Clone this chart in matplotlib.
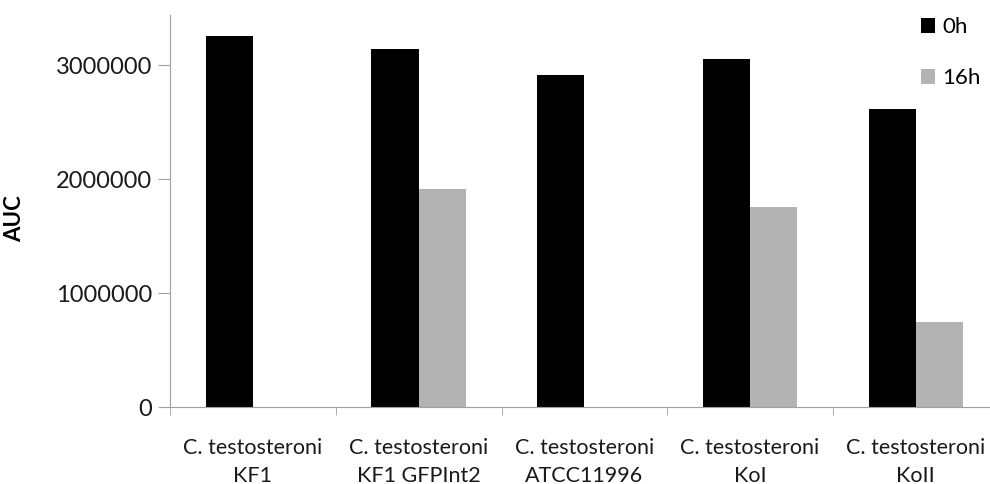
import matplotlib
matplotlib.use("Agg")
import matplotlib.pyplot as plt
import numpy as np

# data
strains = ["C. testosteroni\nKF1", "C. testosteroni\nKF1 GFPInt2", "C. testosteroni\nATCC11996",
           "C. testosteroni\nKoI", "C. testosteroni\nKoII"]
auc_0h = [3255000, 3140000, 2915000, 3050000, 2620000]
auc_16h = [0, 1910000, 0, 1760000, 750000]
y_ticks = [0, 1000000, 2000000, 3000000]

plt.rcParams['font.family'] = ['Lato', 'DejaVu Sans']

fig = plt.figure(figsize=(9.9, 4.84), dpi=100)
ax = fig.add_axes([170 / 990, 1 - 407.3 / 484, 828.75 / 990, (407.3 - 15) / 484])

x = np.arange(len(strains))
w = 0.285
ax.bar(x - w / 2, auc_0h, w, color="black", label="0h")
ax.bar(x + w / 2, auc_16h, w, color="#b3b3b3", label="16h")

ax.set_xlim(-0.5, len(strains) - 0.5)
ax.set_ylim(0, 3440000)
ax.set_yticks(y_ticks)
ax.set_yticklabels([str(v) for v in y_ticks], fontsize=17, color="#1a1a1a")

# category labels centred, tick marks between categories
ax.set_xticks(x)
ax.set_xticklabels(strains, fontsize=15.5, color="#1a1a1a", linespacing=1.5)
ax.tick_params(axis="x", which="major", length=0, pad=22)
ax.set_xticks(np.arange(len(strains)) - 0.5, minor=True)
ax.tick_params(axis="x", which="minor", length=6, color="#a0a0a0", direction="out")
ax.tick_params(axis="y", length=9, color="#a0a0a0", pad=4)

for s in ["top", "right"]:
    ax.spines[s].set_visible(False)
for s in ["left", "bottom"]:
    ax.spines[s].set_color("#a0a0a0")

ax.set_ylabel("AUC", fontsize=16, fontweight="bold")
ax.yaxis.set_label_coords(-145 / 828.75, 0.48)

ax.legend(loc="upper left", bbox_to_anchor=(921 / 990, 1 - 17 / 484), bbox_transform=fig.transFigure,
          frameon=False, fontsize=16, handlelength=0.65, handleheight=0.65, handletextpad=0.3,
          labelspacing=1.4, borderpad=0, borderaxespad=0)

fig.savefig("out.png", dpi=100)
